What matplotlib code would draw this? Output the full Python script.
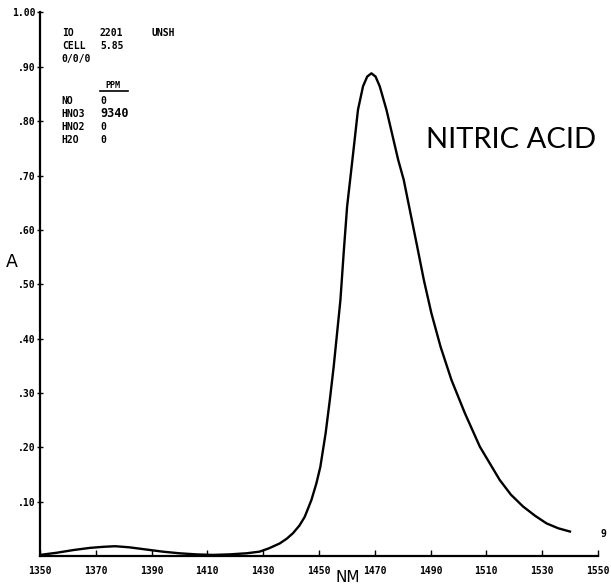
import matplotlib
matplotlib.use("Agg")
import matplotlib.pyplot as plt

# absorbance trace (wavelength in nm)
WAVELENGTH = [1350, 1356, 1362, 1368, 1373, 1377, 1382, 1388, 1394, 1400,
              1406, 1412, 1418, 1424, 1428.7, 1432, 1435.9, 1438.5, 1440.7, 1443,
              1444.9, 1447.3, 1449.1, 1450.5, 1452.4, 1453.9, 1455.3, 1456.5, 1457.7, 1458.9,
              1460.1, 1462.0, 1464.0, 1465.8, 1467.3, 1468.8, 1470.3, 1471.8, 1474.2, 1478.4,
              1480.4, 1482.8, 1485.2, 1487.6, 1490.3, 1493.6, 1497.5, 1502.3, 1507.7, 1514.8,
              1518.8, 1523.2, 1527.5, 1531.6, 1535.8, 1540.0]
ABSORBANCE = [0.002, 0.006, 0.011, 0.015, 0.017, 0.018, 0.016, 0.012, 0.008, 0.005,
              0.003, 0.002, 0.003, 0.005, 0.008, 0.014, 0.023, 0.032, 0.042, 0.056,
              0.072, 0.103, 0.134, 0.164, 0.226, 0.287, 0.349, 0.410, 0.471, 0.560,
              0.643, 0.729, 0.821, 0.864, 0.882, 0.888, 0.882, 0.864, 0.821, 0.729,
              0.692, 0.631, 0.570, 0.508, 0.447, 0.385, 0.324, 0.263, 0.201, 0.140,
              0.113, 0.091, 0.074, 0.060, 0.051, 0.045]

X_TICKS = [1350, 1370, 1390, 1410, 1430, 1450, 1470, 1490, 1510, 1530, 1550]
Y_TICKS = [0.10, 0.20, 0.30, 0.40, 0.50, 0.60, 0.70, 0.80, 0.90, 1.00]
Y_LABELS = [".10", ".20", ".30", ".40", ".50", ".60", ".70", ".80", ".90", "1.00"]

HEADER = [("IO", "2201", "UNSH"), ("CELL", "5.85", ""), ("0/0/0", "", "")]
GASES = ["NO", "HNO3", "HNO2", "H2O"]
PPM = ["0", "9340", "0", "0"]

MONO = "DejaVu Sans Mono"

fig = plt.figure(figsize=(6.11, 5.87), dpi=100)
ax = fig.add_axes([0.0655, 0.0528, 0.913, 0.926])

ax.plot(WAVELENGTH, ABSORBANCE, color="black", linewidth=1.7)

ax.set_xlim(1350, 1550)
ax.set_ylim(0, 1.0)
for side in ("top", "right"):
    ax.spines[side].set_visible(False)
for side in ("left", "bottom"):
    ax.spines[side].set_linewidth(1.6)

ax.set_xticks(X_TICKS)
ax.set_xticklabels([str(v) for v in X_TICKS], family=MONO, fontweight="bold", fontsize=7)
ax.set_yticks(Y_TICKS)
ax.set_yticklabels(Y_LABELS, family=MONO, fontweight="bold", fontsize=7)
ax.tick_params(axis="x", direction="in", length=4, width=1, pad=7)
ax.tick_params(axis="y", direction="inout", length=5, width=1, pad=1)

# axis titles
ax.text(0.552, -0.04, "NM", transform=ax.transAxes, family="DejaVu Sans",
        fontsize=11, ha="center", va="center", clip_on=False)
ax.text(-0.05, 0.541, "A", transform=ax.transAxes, family="DejaVu Sans",
        fontsize=12.5, ha="center", va="center", clip_on=False)

# instrument header block
cols = [0.039, 0.1075, 0.2]
for i, row in enumerate(HEADER):
    y = 0.963 - i * 0.0245
    for x, s in zip(cols, row):
        ax.text(x, y, s, transform=ax.transAxes, family=MONO, fontweight="bold",
                fontsize=7, va="center")

ax.text(0.131, 0.866, "PPM", transform=ax.transAxes, family=MONO, fontweight="bold",
        fontsize=6, va="center", ha="center")
ax.plot([0.1075, 0.158], [0.856, 0.856], transform=ax.transAxes, color="black", linewidth=1.2)

for i, (gas, ppm) in enumerate(zip(GASES, PPM)):
    y = 0.838 - i * 0.0245
    ax.text(cols[0], y, gas, transform=ax.transAxes, family=MONO, fontweight="bold",
            fontsize=7, va="center")
    ax.text(cols[1], y, ppm, transform=ax.transAxes, family=MONO, fontweight="bold",
            fontsize=7 if ppm != "9340" else 8.5, va="center")

ax.text(0.996, 0.766, "NITRIC ACID", transform=ax.transAxes, family="Lato",
        fontsize=21, ha="right", va="center")
ax.text(1.005, 0.04, "9", transform=ax.transAxes, family=MONO, fontweight="bold",
        fontsize=7, ha="left", va="center", clip_on=False)

fig.savefig("out.png", dpi=100)
